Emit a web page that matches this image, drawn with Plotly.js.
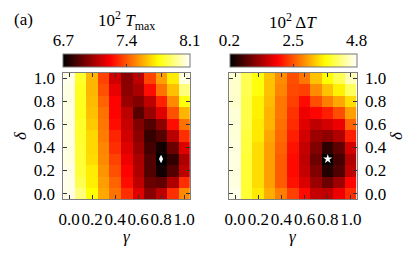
<!DOCTYPE html>
<html>
<head>
<meta charset="utf-8">
<script src="https://cdn.plot.ly/plotly-3.0.1.min.js"></script>
<style>html,body{margin:0;padding:0;background:#fff;}#plot{width:416px;height:254px;}</style>
</head>
<body>
<div id="plot"></div>
<script>
// ---- data ----
const gamma = [0.0, 0.1, 0.2, 0.3, 0.4, 0.5, 0.6, 0.7, 0.8, 0.9, 1.0];
const delta = [0.0, 0.1, 0.2, 0.3, 0.4, 0.5, 0.6, 0.7, 0.8, 0.9, 1.0];
// 10^2 T_max, rows = delta (0.0 -> 1.0), columns = gamma (0.0 -> 1.0)
const tmax = [
  [8.07, 7.92, 7.75, 7.57, 7.46, 7.32, 7.16, 6.98, 7.09, 7.32, 7.51],
  [8.07, 7.86, 7.72, 7.55, 7.43, 7.25, 7.09, 6.92, 6.90, 7.06, 7.32],
  [8.07, 7.83, 7.71, 7.53, 7.39, 7.23, 7.06, 6.87, 6.74, 6.87, 7.09],
  [8.06, 7.82, 7.68, 7.51, 7.36, 7.19, 7.05, 6.87, 6.70, 6.80, 7.06],
  [8.06, 7.82, 7.67, 7.50, 7.32, 7.16, 7.02, 6.84, 6.74, 6.92, 7.16],
  [8.06, 7.81, 7.67, 7.48, 7.30, 7.13, 6.99, 6.81, 6.88, 7.08, 7.32],
  [8.06, 7.81, 7.64, 7.47, 7.25, 7.11, 6.97, 6.87, 6.99, 7.25, 7.46],
  [8.06, 7.79, 7.62, 7.46, 7.23, 7.09, 6.88, 7.02, 7.16, 7.39, 7.60],
  [8.06, 7.79, 7.61, 7.43, 7.23, 7.02, 6.97, 7.09, 7.29, 7.51, 7.76],
  [8.06, 7.79, 7.60, 7.39, 7.18, 6.99, 7.05, 7.25, 7.46, 7.62, 7.92],
  [8.07, 7.81, 7.60, 7.36, 7.13, 6.98, 7.09, 7.36, 7.55, 7.71, 8.06]
];
// 10^2 Delta T
const dT = [
  [4.71, 3.88, 3.51, 3.10, 2.78, 2.36, 1.99, 1.53, 1.49, 1.81, 2.22],
  [4.66, 3.88, 3.42, 3.01, 2.55, 2.04, 1.67, 1.26, 0.94, 1.26, 1.95],
  [4.66, 3.88, 3.42, 3.01, 2.55, 1.99, 1.53, 1.07, 0.43, 0.75, 1.49],
  [4.66, 3.88, 3.42, 3.01, 2.55, 1.99, 1.49, 0.94, 0.20, 0.66, 1.40],
  [4.66, 3.93, 3.42, 3.01, 2.59, 2.04, 1.53, 1.07, 0.52, 0.84, 1.63],
  [4.62, 3.93, 3.51, 3.05, 2.64, 2.13, 1.63, 1.26, 1.17, 1.40, 2.13],
  [4.62, 3.97, 3.51, 3.14, 2.68, 2.22, 1.72, 1.49, 1.63, 1.81, 2.59],
  [4.62, 3.97, 3.56, 3.14, 2.73, 2.27, 1.81, 1.95, 2.13, 2.45, 3.01],
  [4.57, 3.97, 3.56, 3.19, 2.73, 2.36, 1.99, 2.45, 2.78, 3.05, 3.42],
  [4.57, 4.02, 3.70, 3.24, 2.82, 2.41, 2.36, 2.87, 3.24, 3.56, 4.06],
  [4.57, 4.02, 3.70, 3.24, 2.87, 2.45, 2.73, 3.24, 3.65, 4.02, 4.48]
];
const optGamma = [0.8];
const optDelta = [0.3];
const tmaxRange = [6.7, 8.1];
const tmaxTicks = [6.7, 7.4, 8.1];
const dTRange = [0.2, 4.8];
const dTTicks = [0.2, 2.5, 4.8];
const axisTicks = [0.0, 0.2, 0.4, 0.6, 0.8, 1.0];

// ---- layout helpers ----
const W = 416, H = 254;
const px = x => x / W;
const py = y => 1 - y / H;
const FONT = '"Liberation Serif", "DejaVu Serif", serif';
const hot = [[0, '#000000'], [0.375, '#ff0000'], [0.75, '#ffff00'], [1, '#ffffff']];

const L = [63.3, 189.8], R = [229.3, 356.7];
const TOP = 72.7, BOT = 199.3;
const CB_TOP = 54, CB_BOT = 67;

function cbar(xr) {
  return {
    orientation: 'h', x: px((xr[0] + xr[1]) / 2), xanchor: 'center',
    y: py(CB_TOP), yanchor: 'top', len: (xr[1] - xr[0]) / W, lenmode: 'fraction',
    thickness: CB_BOT - CB_TOP, thicknessmode: 'pixels', xpad: 0, ypad: 0,
    outlinewidth: 1, outlinecolor: '#777', borderwidth: 0,
    ticks: 'inside', ticklen: 3, tickcolor: '#333', showticklabels: false
  };
}

const traces = [
  {type: 'heatmap', x: gamma, y: delta, z: tmax, zmin: tmaxRange[0], zmax: tmaxRange[1],
   colorscale: hot, zsmooth: false, xaxis: 'x', yaxis: 'y', hoverinfo: 'skip',
   colorbar: Object.assign(cbar(L), {tickvals: [tmaxTicks[1]]})},
  {type: 'heatmap', x: gamma, y: delta, z: dT, zmin: dTRange[0], zmax: dTRange[1],
   colorscale: hot, zsmooth: false, xaxis: 'x2', yaxis: 'y2', hoverinfo: 'skip',
   colorbar: Object.assign(cbar(R), {tickvals: [dTTicks[1]]})},
  {type: 'scatter', mode: 'markers', x: optGamma, y: optDelta, xaxis: 'x', yaxis: 'y',
   marker: {symbol: 'diamond-tall', size: 6, color: '#ffffff', line: {width: 0}}, hoverinfo: 'skip'},
  {type: 'scatter', mode: 'markers', x: optGamma, y: optDelta, xaxis: 'x2', yaxis: 'y2',
   marker: {symbol: 'star', size: 7, color: '#ffffff', line: {width: 0}}, hoverinfo: 'skip'},
  {type: 'scatter', mode: 'markers', x: [], y: [], xaxis: 'x3', yaxis: 'y3', hoverinfo: 'skip'},
  {type: 'scatter', mode: 'markers', x: [], y: [], xaxis: 'x4', yaxis: 'y3', hoverinfo: 'skip'}
];

const frameAxis = {
  range: [-0.05, 1.05], tickvals: axisTicks, tickformat: '.1f', tickangle: 0,
  ticks: 'inside', ticklen: 4, tickcolor: '#333', tickwidth: 1,
  showline: true, linecolor: '#808080', linewidth: 1, mirror: 'ticks',
  showgrid: false, zeroline: false, fixedrange: true,
  tickfont: {family: FONT, size: 17, color: '#000'}, ticklabelstandoff: 4
};
const labelAxis = {
  side: 'top', showline: false, showgrid: false, zeroline: false, ticks: '', tickangle: 0,
  tickfont: {family: FONT, size: 17, color: '#000'}, ticklabelstandoff: 4, fixedrange: true
};

const layout = {
  width: W, height: H,
  margin: {l: 0, r: 0, t: 0, b: 0, pad: 0, autoexpand: false},
  paper_bgcolor: '#fff', plot_bgcolor: '#fff', showlegend: false,
  font: {family: FONT, size: 17, color: '#000'},
  xaxis: Object.assign({}, frameAxis, {domain: [px(L[0]), px(L[1])], anchor: 'y'}),
  yaxis: Object.assign({}, frameAxis, {domain: [py(BOT), py(TOP)], anchor: 'x'}),
  xaxis2: Object.assign({}, frameAxis, {domain: [px(R[0]), px(R[1])], anchor: 'y2'}),
  yaxis2: Object.assign({}, frameAxis, {domain: [py(BOT), py(TOP)], anchor: 'x2', side: 'right'}),
  xaxis3: Object.assign({}, labelAxis, {domain: [px(L[0]), px(L[1])], anchor: 'y3', range: tmaxRange, tickvals: tmaxTicks, tickformat: '.1f'}),
  xaxis4: Object.assign({}, labelAxis, {domain: [px(R[0]), px(R[1])], anchor: 'y3', range: dTRange, tickvals: dTTicks, tickformat: '.1f'}),
  yaxis3: {domain: [py(CB_BOT), py(CB_TOP)], anchor: 'x3', visible: false, range: [0, 1], fixedrange: true},
  annotations: [
    {text: '(a)', x: px(23), y: py(20), xref: 'paper', yref: 'paper', showarrow: false, xanchor: 'center', yanchor: 'middle', font: {family: FONT, size: 17}},
    {text: '10<sup>2</sup> <i>T</i><sub>max</sub>', x: px((L[0] + L[1]) / 2), y: py(21), xref: 'paper', yref: 'paper', showarrow: false, xanchor: 'center', yanchor: 'middle', font: {family: FONT, size: 17}},
    {text: '10<sup>2</sup> Δ<i>T</i>', x: px((R[0] + R[1]) / 2), y: py(21), xref: 'paper', yref: 'paper', showarrow: false, xanchor: 'center', yanchor: 'middle', font: {family: FONT, size: 17}},
    {text: '<i>γ</i>', x: px((L[0] + L[1]) / 2), y: py(236), xref: 'paper', yref: 'paper', showarrow: false, xanchor: 'center', yanchor: 'middle', font: {family: FONT, size: 17}},
    {text: '<i>γ</i>', x: px((R[0] + R[1]) / 2), y: py(236), xref: 'paper', yref: 'paper', showarrow: false, xanchor: 'center', yanchor: 'middle', font: {family: FONT, size: 17}},
    {text: '<i>δ</i>', x: px(20), y: py((TOP + BOT) / 2), xref: 'paper', yref: 'paper', showarrow: false, xanchor: 'center', yanchor: 'middle', textangle: -90, font: {family: FONT, size: 17}},
    {text: '<i>δ</i>', x: px(396), y: py((TOP + BOT) / 2), xref: 'paper', yref: 'paper', showarrow: false, xanchor: 'center', yanchor: 'middle', textangle: -90, font: {family: FONT, size: 17}}
  ]
};

Plotly.newPlot('plot', traces, layout, {staticPlot: true, displayModeBar: false});
</script>
</body>
</html>
